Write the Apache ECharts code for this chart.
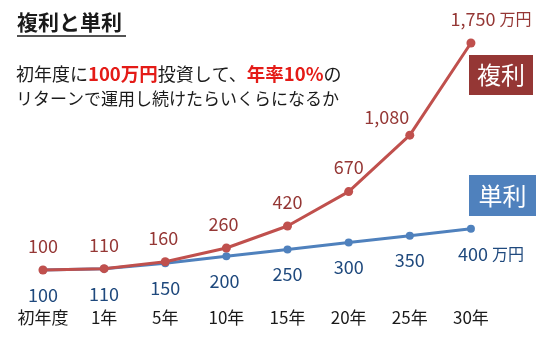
<!DOCTYPE html>
<html><head><meta charset="utf-8">
<script src="https://cdn.jsdelivr.net/npm/echarts@6/dist/echarts.min.js"></script>
<style>html,body{margin:0;padding:0;background:#fff}#c{width:553px;height:339px}</style>
</head><body><div id="c"></div>
<script>
var categories = ['初年度', '1年', '5年', '10年', '15年', '20年', '25年', '30年'];
var compound = [100, 110, 160, 260, 420, 670, 1080, 1750];
var simple = [100, 110, 150, 200, 250, 300, 350, 400];
var unit = '万円';
var F = '"Noto Sans CJK JP", sans-serif';

// label nudges (style only)
var redShift = [[0,0],[0,0],[-2,0],[-3,0],[0,0],[0,0],[-23,6],[20,0]];
var blueShift = [[0,0],[0,0],[0,0],[-2,0],[0,0],[0,0],[0,0],[20,0]];

function fmt(v){ return String(v).replace(/\B(?=(\d{3})+(?!\d))/g, ','); }

var chart = echarts.init(document.getElementById('c'), null, {renderer:'canvas'});
chart.setOption({
  animation: false,
  grid: {left: 12.4, right: 51.5, top: 43, bottom: 55.2},
  xAxis: {
    type: 'category', data: categories, boundaryGap: true,
    axisLine: {show: false}, axisTick: {show: false},
    axisLabel: {color: '#1a1a1a', fontSize: 17, fontFamily: F, margin: 25, interval: 0, hideOverlap: false}
  },
  yAxis: {type: 'value', min: 0, max: 1750, show: false, splitLine: {show: false}},
  series: [
    {
      type: 'line', data: compound.map(function(v, i){
        return {value: v, label: {offset: redShift[i]}};
      }),
      smooth: false, symbol: 'circle', symbolSize: 9, z: 3,
      lineStyle: {color: '#C0504D', width: 3}, itemStyle: {color: '#C0504D'},
      label: {
        show: true, position: 'top', distance: 10.5,
        fontFamily: F, fontSize: 18, color: '#953735',
        formatter: function(p){
          return p.dataIndex === compound.length - 1 ? fmt(p.value) + ' {u|' + unit + '}' : fmt(p.value);
        },
        rich: {u: {fontFamily: F, fontSize: 16, color: '#953735'}}
      }
    },
    {
      type: 'line', data: simple.map(function(v, i){
        return {value: v, label: {offset: blueShift[i]}};
      }),
      symbol: 'circle', symbolSize: 8, z: 2,
      lineStyle: {color: '#4F81BD', width: 3}, itemStyle: {color: '#4F81BD'},
      label: {
        show: true, position: 'bottom', distance: 12,
        fontFamily: F, fontSize: 18, color: '#1F497D',
        formatter: function(p){
          return p.dataIndex === simple.length - 1 ? fmt(p.value) + ' {u|' + unit + '}' : fmt(p.value);
        },
        rich: {u: {fontFamily: F, fontSize: 16, color: '#1F497D'}}
      }
    }
  ],
  graphic: [
    {type: 'text', left: 17, top: 12, style: {text: '複利と単利', fontFamily: F, fontSize: 21, fontWeight: 'bold', fill: '#1a1a1a'}},
    {type: 'line', shape: {x1: 17, y1: 36, x2: 126, y2: 36}, style: {stroke: '#1a1a1a', lineWidth: 1.5}},
    {type: 'text', left: 16, top: 65, style: {
      text: '初年度に{r|100万円}投資して、{r|年率10%}の',
      fontFamily: F, fontSize: 18, fill: '#1a1a1a',
      rich: {r: {fontFamily: F, fontSize: 18.5, fontWeight: 'bold', fill: '#E41B17', color: '#E41B17'}}
    }},
    {type: 'text', left: 16, top: 90, style: {text: 'リターンで運用し続けたらいくらになるか', fontFamily: F, fontSize: 17, fill: '#1a1a1a'}},
    {type: 'group', left: 469, top: 55, children: [
      {type: 'rect', shape: {x: 0, y: 0, width: 64, height: 40}, style: {fill: '#953735'}},
      {type: 'text', x: 32, y: 20, style: {text: '複利', fontFamily: F, fontSize: 24, fill: '#fff', align: 'center', verticalAlign: 'middle'}}
    ]},
    {type: 'group', left: 469, top: 175, children: [
      {type: 'rect', shape: {x: 0, y: 0, width: 67, height: 41}, style: {fill: '#4F81BD'}},
      {type: 'text', x: 33.5, y: 20.5, style: {text: '単利', fontFamily: F, fontSize: 24, fill: '#fff', align: 'center', verticalAlign: 'middle'}}
    ]}
  ]
});
</script></body></html>
